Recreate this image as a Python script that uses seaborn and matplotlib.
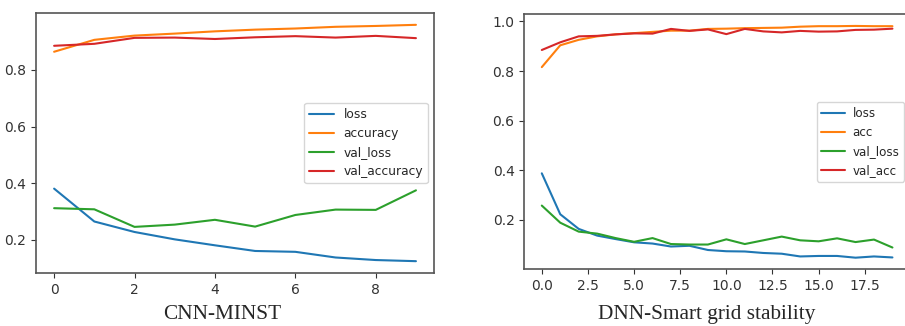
import pandas as pd
import numpy as np
import matplotlib
matplotlib.use("Agg")
import matplotlib.pyplot as plt
import seaborn as sns

# CNN-MINST history (10 epochs)
cnn_epochs = list(range(10))
cnn_loss = [0.381, 0.265, 0.228, 0.202, 0.181, 0.161, 0.158, 0.138, 0.129, 0.125]
cnn_accuracy = [0.864, 0.906, 0.921, 0.928, 0.936, 0.942, 0.946, 0.952, 0.955, 0.959]
cnn_val_loss = [0.312, 0.308, 0.246, 0.254, 0.271, 0.247, 0.288, 0.307, 0.306, 0.375]
cnn_val_accuracy = [0.885, 0.892, 0.913, 0.914, 0.909, 0.915, 0.919, 0.914, 0.920, 0.912]

# DNN-Smart grid stability history (20 epochs)
dnn_epochs = list(range(20))
dnn_loss = [0.388, 0.223, 0.164, 0.137, 0.123, 0.110, 0.105, 0.093, 0.096, 0.079,
            0.074, 0.073, 0.067, 0.064, 0.053, 0.055, 0.055, 0.048, 0.053, 0.049]
dnn_acc = [0.816, 0.904, 0.926, 0.940, 0.948, 0.953, 0.958, 0.963, 0.963, 0.970,
           0.971, 0.973, 0.974, 0.975, 0.979, 0.981, 0.981, 0.982, 0.981, 0.981]
dnn_val_loss = [0.258, 0.189, 0.153, 0.145, 0.127, 0.112, 0.127, 0.103, 0.101, 0.101,
                0.122, 0.103, 0.118, 0.133, 0.118, 0.114, 0.126, 0.111, 0.121, 0.089]
dnn_val_acc = [0.885, 0.916, 0.940, 0.942, 0.948, 0.952, 0.951, 0.970, 0.962, 0.968,
               0.949, 0.970, 0.960, 0.956, 0.962, 0.959, 0.960, 0.966, 0.967, 0.971]

cnn_names = ["loss", "accuracy", "val_loss", "val_accuracy"]
dnn_names = ["loss", "acc", "val_loss", "val_acc"]
captions = ["CNN-MINST", "DNN-Smart grid stability"]


def to_long(epochs, names, series):
    frames = []
    for name, vals in zip(names, series):
        frames.append(pd.DataFrame({"epoch": epochs, "value": vals, "metric": name}))
    return pd.concat(frames, ignore_index=True)


cnn_df = to_long(cnn_epochs, cnn_names,
                 [cnn_loss, cnn_accuracy, cnn_val_loss, cnn_val_accuracy])
dnn_df = to_long(dnn_epochs, dnn_names,
                 [dnn_loss, dnn_acc, dnn_val_loss, dnn_val_acc])

sns.set_style("ticks")
plt.rcParams["font.family"] = ["DejaVu Sans"]
colors = sns.color_palette("tab10")[:4]

fig = plt.figure(figsize=(9.05, 3.26), dpi=100)
ax1 = fig.add_axes([0.0398, 0.1626, 0.4398, 0.7975])
ax2 = fig.add_axes([0.5793, 0.174, 0.4262, 0.782])

for ax, df, names in [(ax1, cnn_df, cnn_names), (ax2, dnn_df, dnn_names)]:
    sns.lineplot(data=df, x="epoch", y="value", hue="metric", hue_order=names,
                 palette=colors, linewidth=1.5, ax=ax)
    ax.set_xlabel("")
    ax.set_ylabel("")
    ax.tick_params(labelsize=10, colors="#333333", length=3.5)
    for sp in ax.spines.values():
        sp.set_color("#555555")
        sp.set_linewidth(1.2)

h1, l1 = ax1.get_legend_handles_labels()
ax1.legend(h1, l1, loc="center right", fontsize=8.8)
h2, l2 = ax2.get_legend_handles_labels()
ax2.legend(h2, l2, loc="center left", bbox_to_anchor=(0.758, 0.5),
           borderaxespad=0, fontsize=8.6, handletextpad=0.6)

ax1.set_yticks([0.2, 0.4, 0.6, 0.8])
ax1.set_xticks([0, 2, 4, 6, 8])
ax2.set_yticks([0.2, 0.4, 0.6, 0.8, 1.0])
ax2.set_xticks([0.0, 2.5, 5.0, 7.5, 10.0, 12.5, 15.0, 17.5])

fig.text(0.245, 0.036, captions[0], ha="center", va="center",
         family="Liberation Serif", fontsize=15.3)
fig.text(0.781, 0.036, captions[1], ha="center", va="center",
         family="Liberation Serif", fontsize=15.3)

fig.savefig("out.png", dpi=100)
